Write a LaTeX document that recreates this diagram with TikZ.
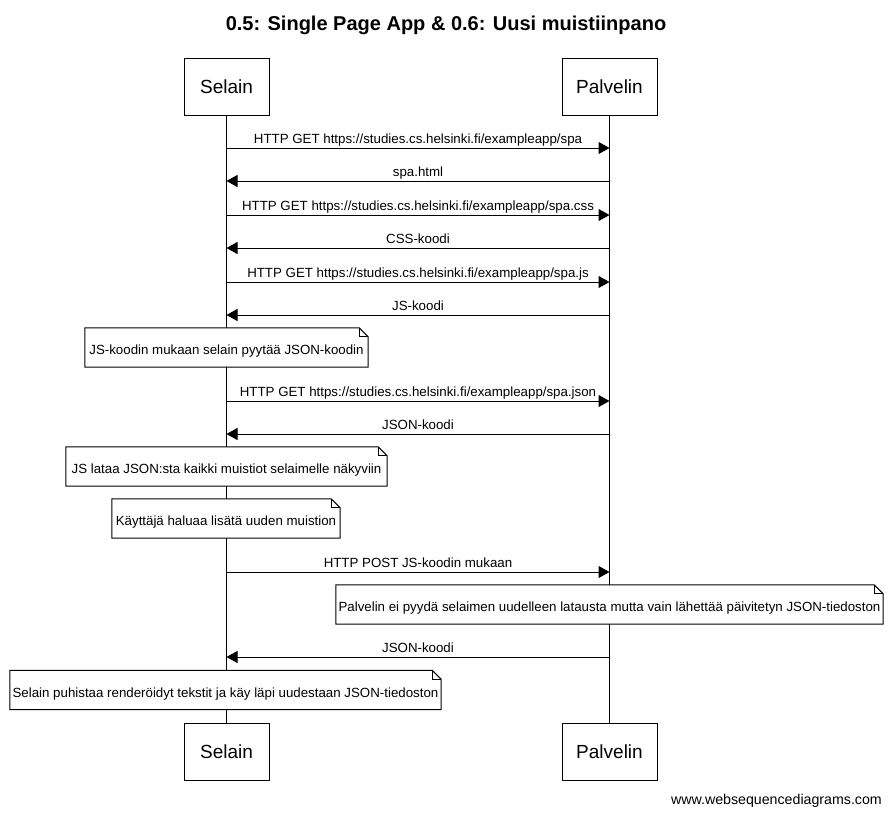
\documentclass[tikz,border=0pt]{standalone}
\usepackage{fontspec}
\setmainfont{Liberation Sans}
\usetikzlibrary{arrows.meta}
\tikzset{
  part/.style={draw, line width=1pt, fill=white, minimum width=85pt, minimum height=57pt, inner sep=0pt, font=\fontsize{19}{22}\selectfont},
  life/.style={line width=1pt},
  msg/.style={line width=1pt, -{Triangle[length=11pt,width=12pt]}},
  lbl/.style={anchor=base, yshift=4.5pt, inner sep=0pt, font=\fontsize{13.3}{16}\selectfont},
  notebox/.style={fill=white, inner sep=0pt, minimum height=39pt, text height=14pt, text depth=0pt, font=\fontsize{13.3}{16}\selectfont},
  noteline/.style={line width=1pt},
}
\newcommand\noteoutline[1]{%
  \draw[noteline] (#1.south west) -- (#1.north west) -- ([xshift=-9pt]#1.north east) -- ([yshift=-9pt]#1.north east) -- (#1.south east) -- cycle;
  \draw[noteline] ([xshift=-9pt]#1.north east) -- ([xshift=-9pt,yshift=-9pt]#1.north east) -- ([yshift=-9pt]#1.north east);}
\begin{document}
\begin{tikzpicture}[x=1pt,y=-1pt]
\useasboundingbox[fill=white] (0,0) rectangle (891,814);
\node[font=\bfseries\fontsize{20}{24}\selectfont] (title) at (446,25) {0.5: Single Page App \& 0.6: Uusi muistiinpano};
% participants
\node[part] (sT) at (226.5,86.5) {Selain};
\node[part, minimum width=95pt] (pT) at (609.5,86.5) {Palvelin};
\node[part] (sB) at (226.5,751.5) {Selain};
\node[part, minimum width=95pt] (pB) at (609.5,751.5) {Palvelin};
\draw[life] (sT) -- (sB);
\draw[life] (pT) -- (pB);
% message endpoints
\foreach \i/\y in {1/148,2/181,3/215,4/248,5/282,6/315,8/401,9/434,12/572,14/657}{
  \coordinate (s\i) at (226.5,\y);
  \coordinate (p\i) at (609.5,\y);
}
\draw[msg] (s1) -- node[lbl] {HTTP GET https://studies.cs.helsinki.fi/exampleapp/spa} (p1);
\draw[msg] (p2) -- node[lbl] {spa.html} (s2);
\draw[msg] (s3) -- node[lbl] {HTTP GET https://studies.cs.helsinki.fi/exampleapp/spa.css} (p3);
\draw[msg] (p4) -- node[lbl] {CSS-koodi} (s4);
\draw[msg] (s5) -- node[lbl] {HTTP GET https://studies.cs.helsinki.fi/exampleapp/spa.js} (p5);
\draw[msg] (p6) -- node[lbl] {JS-koodi} (s6);
\draw[msg] (s8) -- node[lbl] {HTTP GET https://studies.cs.helsinki.fi/exampleapp/spa.json} (p8);
\draw[msg] (p9) -- node[lbl] {JSON-koodi} (s9);
\draw[msg] (s12) -- node[lbl] {HTTP POST JS-koodin mukaan} (p12);
\draw[msg] (p14) -- node[lbl] {JSON-koodi} (s14);
% notes
\node[notebox, minimum width=283pt] (n1) at (226.5,347.5) {JS-koodin mukaan selain pyytää JSON-koodin};
\noteoutline{n1}
\node[notebox, minimum width=321pt] (n2) at (226.5,466.5) {JS lataa JSON:sta kaikki muistiot selaimelle näkyviin};
\noteoutline{n2}
\node[notebox, minimum width=228pt] (n3) at (226,518.5) {Käyttäjä haluaa lisätä uuden muistion};
\noteoutline{n3}
\node[notebox, minimum width=547pt] (n4) at (609.5,604.5) {Palvelin ei pyydä selaimen uudelleen latausta mutta vain lähettää päivitetyn JSON-tiedoston};
\noteoutline{n4}
\node[notebox, minimum width=431pt] (n5) at (225.5,690) {Selain puhistaa renderöidyt tekstit ja käy läpi uudestaan JSON-tiedoston};
\noteoutline{n5}
\node[anchor=base east, inner sep=0pt, font=\fontsize{14.2}{17}\selectfont] (wsd) at (882,804) {www.websequencediagrams.com};
\end{tikzpicture}
\end{document}
